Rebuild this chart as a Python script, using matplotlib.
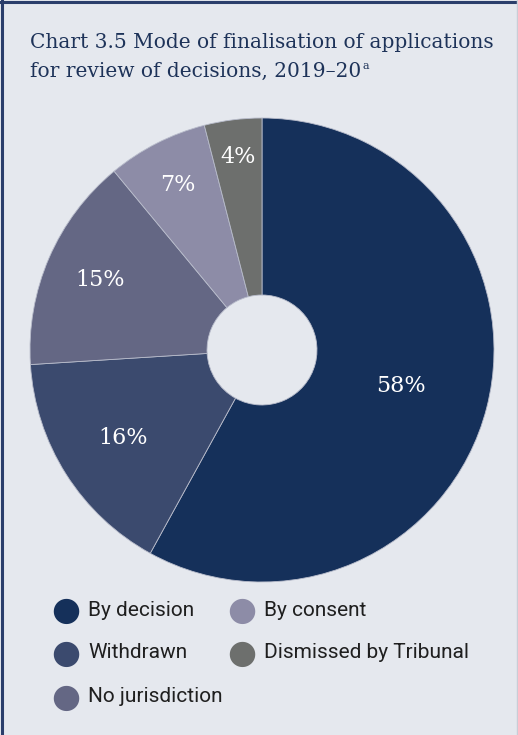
import matplotlib.pyplot as plt
import numpy as np

# data
categories = ['By decision', 'Withdrawn', 'No jurisdiction', 'By consent', 'Dismissed by Tribunal']
shares = [58, 16, 15, 7, 4]
labels = ['58%', '16%', '15%', '7%', '4%']
colours = ['#15305a', '#3b4a6e', '#646784', '#8d8ca7', '#6d6f6d']
label_r = [0.62, 0.71, 0.76, 0.80, 0.84]

bg = '#e5e8ee'
W, H = 518, 735
fig = plt.figure(figsize=(W / 100, H / 100), dpi=100)
fig.patch.set_facecolor(bg)

# frame lines (top and left dark, right light)
fig.add_artist(plt.Line2D([0, 1], [1 - 1.5 / H, 1 - 1.5 / H], color='#2b3e6b', lw=2.2))
fig.add_artist(plt.Line2D([1.5 / W, 1.5 / W], [0, 1], color='#2b3e6b', lw=2.2))
fig.add_artist(plt.Line2D([1 - 1 / W, 1 - 1 / W], [0, 1], color='#c9cdd6', lw=1))

title_kw = dict(fontsize=14.5, color='#1e3359', family='DejaVu Serif', va='baseline')
fig.text(30 / W, 1 - 48 / H, 'Chart 3.5 Mode of finalisation of applications', **title_kw)
t2 = fig.text(30 / W, 1 - 77 / H, 'for review of decisions, 2019\u201320', **title_kw)
fig.canvas.draw()
ext = t2.get_window_extent()
fig.text(ext.x1 / W + 1.5 / W, 1 - 69 / H, 'a', fontsize=8, color='#1e3359',
         family='DejaVu Serif', va='baseline')

cx, cy, R = 262, 350, 232
ax = fig.add_axes([(cx - R) / W, (H - cy - R) / H, 2 * R / W, 2 * R / H])
ax.set_facecolor(bg)
wedges, _ = ax.pie(shares, colors=colours, startangle=90, counterclock=False,
                   radius=1, wedgeprops=dict(width=0.763, edgecolor='#b8bccb', linewidth=0.6))
ax.set_xlim(-1, 1)
ax.set_ylim(-1, 1)
ax.set_aspect('equal')
ax.axis('off')

for w, lab, r in zip(wedges, labels, label_r):
    ang = np.deg2rad((w.theta1 + w.theta2) / 2)
    ax.text(r * np.cos(ang), r * np.sin(ang), lab, ha='center', va='center',
            fontsize=16, color='white', family='DejaVu Serif')

# legend drawn by hand in two columns
legend_pos = [(66, 610), (66, 653), (66, 697), (242, 610), (242, 653)]
for (x, y), name, c in zip(legend_pos, categories, colours):
    fig.text(x / W, 1 - y / H, '\u25cf', color=c, fontsize=24, ha='center', va='center',
             family='DejaVu Sans')
    fig.text((x + 22) / W, 1 - y / H, name, color='#1f1f1f', fontsize=15,
             family='Roboto', va='center')

fig.savefig('out.png', dpi=100, facecolor=bg)
